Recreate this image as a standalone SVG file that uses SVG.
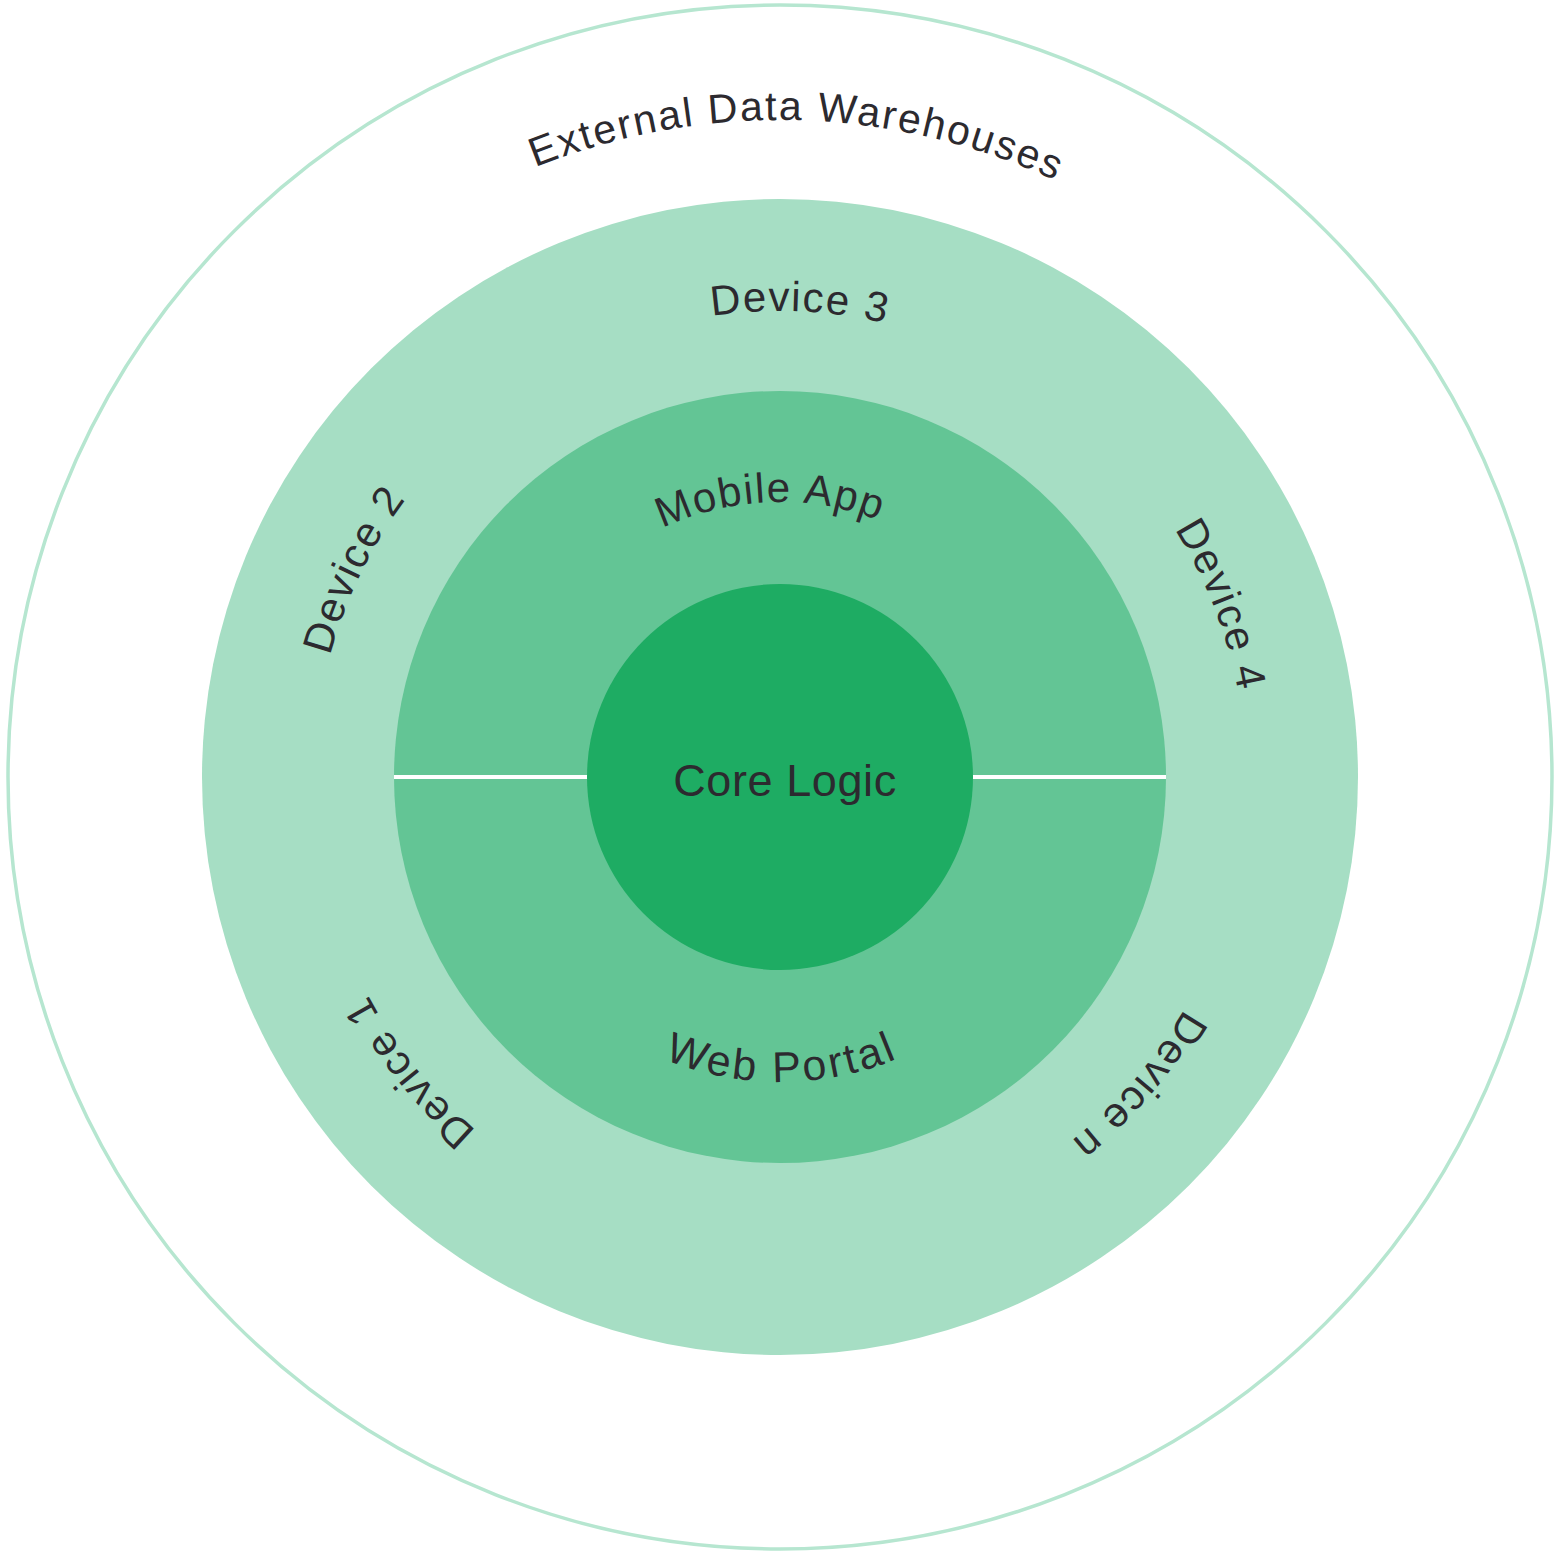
<svg xmlns="http://www.w3.org/2000/svg" xmlns:xlink="http://www.w3.org/1999/xlink" width="1560" height="1553" viewBox="0 0 1560 1553">
  <style>
    .lbl { font-family: "Liberation Sans", Arial, sans-serif; fill: #2c2a2f; }
    .big { font-size: 42px; letter-spacing: 1.6px; }
  </style>
  <defs>
    <path id="pOuter" d="M780,1434 A657,657 0 1,1 780,120 A657,657 0 1,1 780,1434"/>
    <path id="pDev" d="M780,1243 A466,466 0 1,1 780,311 A466,466 0 1,1 780,1243"/>
    <path id="pMob" d="M780,1052 A275,275 0 1,1 780,502 A275,275 0 1,1 780,1052"/>
    <path id="pWeb" d="M780,472 A305,305 0 1,0 780,1082 A305,305 0 1,0 780,472"/>
  </defs>
  <rect width="1560" height="1553" fill="#ffffff"/>

  <g id="external">
    <circle cx="780" cy="777" r="772" fill="none" stroke="#b6e6d0" stroke-width="3.5"/>
    <text class="lbl" font-size="41" letter-spacing="2"><textPath xlink:href="#pOuter" href="#pOuter" startOffset="50.42%" text-anchor="middle">External Data Warehouses</textPath></text>
  </g>

  <g id="devices">
    <circle cx="780" cy="777" r="578" fill="#a6dec4"/>
    <text class="lbl big"><textPath xlink:href="#pDev" href="#pDev" startOffset="50.67%" text-anchor="middle">Device 3</textPath></text>
    <text class="lbl big"><textPath xlink:href="#pDev" href="#pDev" startOffset="32.2%" text-anchor="middle">Device 2</textPath></text>
    <text class="lbl big"><textPath xlink:href="#pDev" href="#pDev" startOffset="69.08%" text-anchor="middle">Device 4</textPath></text>
    <text class="lbl big"><textPath xlink:href="#pDev" href="#pDev" startOffset="14.3%" text-anchor="middle">Device 1</textPath></text>
    <text class="lbl big"><textPath xlink:href="#pDev" href="#pDev" startOffset="86.3%" text-anchor="middle">Device n</textPath></text>
  </g>

  <g id="clients">
    <circle cx="780" cy="777" r="386" fill="#63c595"/>
    <text id="mobile-app" class="lbl big"><textPath xlink:href="#pMob" href="#pMob" startOffset="49.44%" text-anchor="middle">Mobile App</textPath></text>
    <text id="web-portal" class="lbl" font-size="43" letter-spacing="3"><textPath xlink:href="#pWeb" href="#pWeb" startOffset="50.1%" text-anchor="middle">Web Portal</textPath></text>
  </g>

  <g id="dividers">
    <line x1="394" y1="777" x2="588" y2="777" stroke="#ffffff" stroke-width="4"/>
    <line x1="972" y1="777" x2="1166" y2="777" stroke="#ffffff" stroke-width="4"/>
  </g>

  <g id="core-logic">
    <circle cx="780" cy="777" r="193" fill="#1eac63"/>
    <text class="lbl" x="785" y="796" font-size="45" letter-spacing="0.6" text-anchor="middle">Core Logic</text>
  </g>
</svg>
